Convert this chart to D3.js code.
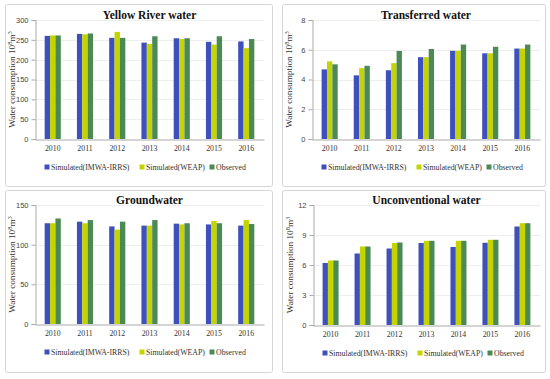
<!DOCTYPE html>
<html><head><meta charset="utf-8">
<script src="https://cdn.jsdelivr.net/npm/d3@7"></script>
<style>
html,body{margin:0;padding:0;background:#fff;}
svg{display:block;}
</style></head>
<body>
<svg id="c" width="550" height="379"></svg>
<script>
const years = ["2010","2011","2012","2013","2014","2015","2016"];
const seriesNames = ["Simulated(IMWA-IRRS)","Simulated(WEAP)","Observed"];
const seriesColors = ["#3d50bb","#c4d400","#4b8a55"];

const titles = ["Yellow River water","Transferred water","Groundwater","Unconventional water"];

const yellowIMWA = [260, 265, 255, 243, 254, 245, 246];
const yellowWEAP = [261, 264, 270, 240, 252, 238, 229];
const yellowObs  = [261, 266, 255, 259, 254, 259, 252];

const transIMWA = [4.68, 4.28, 4.62, 5.50, 5.93, 5.76, 6.08];
const transWEAP = [5.22, 4.76, 5.10, 5.50, 5.93, 5.76, 6.08];
const transObs  = [5.02, 4.92, 5.92, 6.05, 6.35, 6.20, 6.35];

const groundIMWA = [127, 129, 123, 124, 126.5, 125.5, 124];
const groundWEAP = [127, 127, 119, 124, 125.5, 130, 131];
const groundObs  = [133, 131, 129, 131, 127, 127, 126];

const unconvIMWA = [6.2, 7.15, 7.65, 8.2, 7.8, 8.22, 9.85];
const unconvWEAP = [6.45, 7.85, 8.2, 8.42, 8.42, 8.52, 10.18];
const unconvObs  = [6.45, 7.85, 8.25, 8.42, 8.42, 8.52, 10.18];

const yTicks1 = [0,50,100,150,200,250,300];
const yTicks2 = [0,2,4,6,8];
const yTicks3 = [0,50,100,150];
const yTicks4 = [0,3,6,9,12];

const panels = [
  {title: titles[0], data:[yellowIMWA,yellowWEAP,yellowObs], ticks:yTicks1,
   box:[5,4,272,186], plot:{l:35,r:264,t:20,b:139}},
  {title: titles[1], data:[transIMWA,transWEAP,transObs], ticks:yTicks2,
   box:[282,4,545,186], plot:{l:312,r:540,t:20,b:139}},
  {title: titles[2], data:[groundIMWA,groundWEAP,groundObs], ticks:yTicks3,
   box:[5,190,272,372], plot:{l:35,r:264,t:205,b:324}},
  {title: titles[3], data:[unconvIMWA,unconvWEAP,unconvObs], ticks:yTicks4,
   box:[282,190,545,372], plot:{l:313,r:540,t:205,b:325}}
];

const svg = d3.select("#c");
const serif = "'Liberation Serif','Times New Roman',serif";

panels.forEach(p => {
  const g = svg.append("g");
  const [x0,y0,x1,y1] = p.box;
  g.append("rect").attr("x",x0+0.5).attr("y",y0+0.5).attr("width",x1-x0).attr("height",y1-y0)
    .attr("fill","#fff").attr("stroke","#d6d6d6").attr("stroke-width",1).attr("rx",2);

  const P = p.plot;
  const yMax = p.ticks[p.ticks.length-1];
  const y = d3.scaleLinear().domain([0,yMax]).range([P.b,P.t]);
  const x = d3.scaleBand().domain(years).range([P.l,P.r]).paddingInner(0.5).paddingOuter(0.3);
  const xs = d3.scaleBand().domain(d3.range(3)).range([0,x.bandwidth()]);

  // gridlines
  g.append("g").selectAll("line").data(p.ticks.filter(t=>t>0)).join("line")
    .attr("x1",P.l).attr("x2",P.r).attr("y1",d=>Math.round(y(d))+0.5).attr("y2",d=>Math.round(y(d))+0.5)
    .attr("stroke","#eeeeee");

  // bars
  years.forEach((yr,i)=>{
    p.data.forEach((arr,s)=>{
      g.append("rect").attr("x",x(yr)+xs(s)).attr("width",xs.bandwidth())
        .attr("y",y(arr[i])).attr("height",y(0)-y(arr[i]))
        .attr("fill",seriesColors[s]);
    });
  });

  // y axis
  const ya = d3.axisLeft(y).tickValues(p.ticks).tickSize(4).tickPadding(3);
  const yg = g.append("g").attr("transform",`translate(${P.l+0.5},0)`).call(ya);
  yg.select(".domain").attr("stroke","#aaaaaa");
  yg.selectAll(".tick line").attr("stroke","#aaaaaa");
  yg.selectAll("text").attr("font-family","'Liberation Sans',Arial,sans-serif").attr("font-size",7.5).attr("fill","#444");

  // x axis
  const xa = d3.axisBottom(x).tickSize(0).tickPadding(6);
  const xg = g.append("g").attr("transform",`translate(0,${P.b+0.5})`).call(xa);
  xg.select(".domain").attr("stroke","#aaaaaa");
  xg.selectAll("text").attr("font-family",serif).attr("font-size",7.8).attr("fill","#333");

  // title
  g.append("text").attr("x",(P.l+P.r)/2).attr("y",P.t-1).attr("text-anchor","middle")
    .attr("font-family",serif).attr("font-weight","bold").attr("font-size",11.5).attr("fill","#111")
    .text(p.title);

  // y label
  const lab = g.append("text").attr("transform",`translate(${P.l-20},${(P.t+P.b)/2}) rotate(-90)`)
    .attr("text-anchor","middle").attr("font-family",serif).attr("font-size",9.2).attr("fill","#333");
  lab.append("tspan").text("Water consumption 10");
  lab.append("tspan").attr("baseline-shift","super").attr("font-size",6.5).text("8");
  lab.append("tspan").text("m");
  lab.append("tspan").attr("baseline-shift","super").attr("font-size",6.5).text("3");

  // legend
  const ly = P.b + 28;
  const offs = [12, 107, 177];
  seriesNames.forEach((n,s)=>{
    const lx = P.l + offs[s];
    g.append("rect").attr("x",lx-2.5).attr("y",ly-2.5).attr("width",5).attr("height",5).attr("fill",seriesColors[s]);
    g.append("text").attr("x",lx+4).attr("y",ly+2.8).attr("font-family",serif).attr("font-size",7.8)
      .attr("fill","#333").text(n);
  });
});
</script>
</body></html>
